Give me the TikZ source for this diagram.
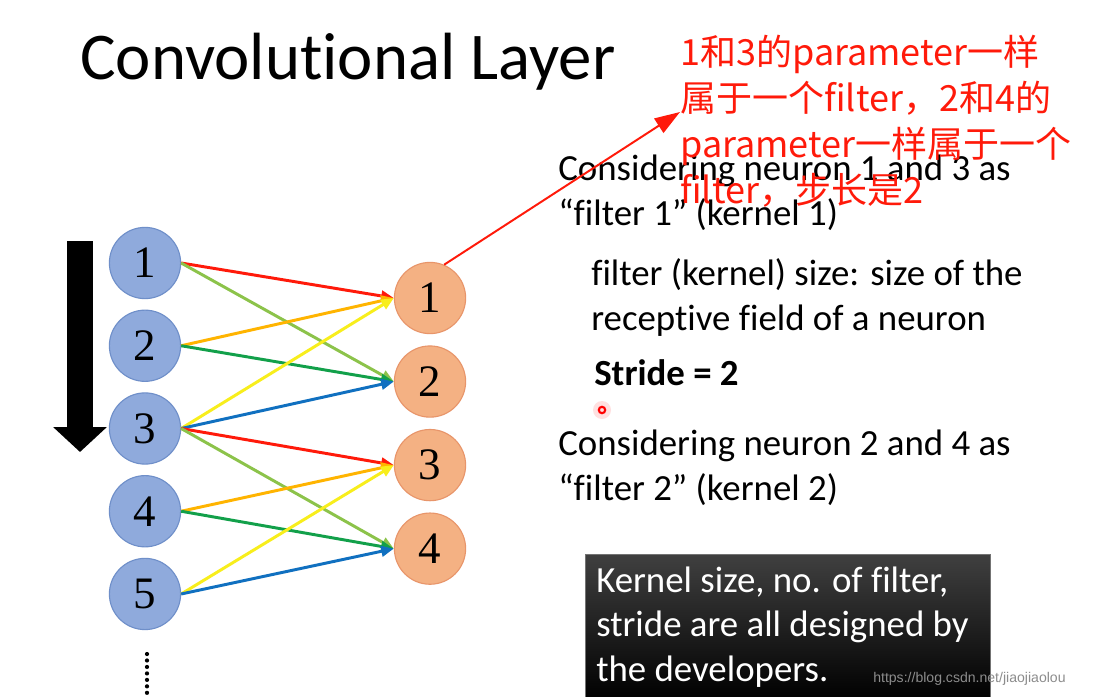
\documentclass[tikz,border=0pt]{standalone}
\usepackage{fontspec}
\setmainfont{Carlito}[Ligatures=NoCommon]
\newfontfamily\cjkfont{Noto Sans CJK SC}
\newfontfamily\numfont{Liberation Serif}
\newfontfamily\markfont{Liberation Sans}
\usetikzlibrary{arrows.meta, positioning}
\definecolor{inBlue}{HTML}{8FAADC}
\definecolor{inEdge}{HTML}{6F8FC9}
\definecolor{outOrange}{HTML}{F4B183}
\definecolor{outEdge}{HTML}{E8956A}
\definecolor{cRed}{HTML}{FF1A0A}
\definecolor{cLime}{HTML}{8CC34A}
\definecolor{cOrange}{HTML}{FFB400}
\definecolor{cGreen}{HTML}{12A04A}
\definecolor{cYellow}{HTML}{F8EE1C}
\definecolor{cBlue}{HTML}{1070C0}

\begin{document}
\begin{tikzpicture}[x=0.025cm, y=-0.025cm, node distance=0.26cm,
    inneuron/.style={circle, fill=inBlue, draw=inEdge, line width=0.8pt,
      minimum size=1.78cm, inner sep=0pt, font=\numfont\fontsize{32}{32}\selectfont},
    outneuron/.style={inneuron, fill=outOrange, draw=outEdge},
    link/.style={line width=2.1pt, -{Triangle[length=9pt, width=7.5pt]}},
    slide/.style={anchor=base west, inner sep=0pt, align=left,
      font=\fontsize{26.2}{32}\selectfont}]
    \useasboundingbox (0,0) rectangle (1103,696);
    \fill[white] (0,0) rectangle (1103,696);

    \node[anchor=base west, inner sep=0pt, font=\fontsize{47.5}{50}\selectfont]
          (title) at (80,80) {Convolutional Layer};

    % input neurons
    \node[inneuron] (in1) at (145,263) {1};
    \node[inneuron, below=of in1] (in2) {2};
    \node[inneuron, below=of in2] (in3) {3};
    \node[inneuron, below=of in3] (in4) {4};
    \node[inneuron, below=of in4] (in5) {5};
    \draw[line width=3pt, line cap=round, dash pattern=on 0pt off 4.6pt]
          (147,654) -- (147,696);

    % output neurons
    \node[outneuron] (out1) at (430,298) {1};
    \node[outneuron, below=0.28cm of out1] (out2) {2};
    \node[outneuron, below=0.28cm of out2] (out3) {3};
    \node[outneuron, below=0.28cm of out3] (out4) {4};

    \foreach \a/\b/\c in {1/1/cRed, 1/2/cLime, 2/1/cOrange, 2/2/cGreen,
                          3/1/cYellow, 3/2/cBlue, 3/3/cRed, 3/4/cLime,
                          4/3/cOrange, 4/4/cGreen, 5/3/cYellow, 5/4/cBlue}
      \draw[link, \c] (in\a.east) -- (out\b.west);

    % stride arrow
    \draw[line width=0.65cm, -{Triangle[length=0.62cm, width=1.3cm]}]
          (80,241) -- (80,452);

    % slide text (placed at the baseline of the last line)
    \node[slide] (kernA) at (558,225)
          {Considering neuron 1 and 3 as\\“filter 1” (kernel 1)};
    \node[slide] (size) at (591,330)
          {filter (kernel) size: size of the\\receptive field of a neuron};
    \node[slide, font=\fontsize{26.2}{32}\selectfont\bfseries] (stride) at (594,385)
          {Stride = 2};
    \fill[red!12] (602,410) circle (9);
    \draw[red, line width=1.5pt] (602,410) circle (3.2);
    \node[slide] (kernB) at (558,500)
          {Considering neuron 2 and 4 as\\“filter 2” (kernel 2)};

    \shade[top color=black!75, bottom color=black, draw=black!55]
          (585,554) rectangle (990,700);
    \node[slide, text=white, font=\fontsize{26.2}{31.3}\selectfont] (remark) at (596,681)
          {Kernel size, no. of filter,\\stride are all designed by\\the developers.};
    \node[anchor=base west, inner sep=0pt, text=black!45,
          font=\markfont\fontsize{10}{10}\selectfont] (mark) at (873,682)
          {https://blog.csdn.net/jiaojiaolou};

    % red note
    \node[slide, text=cRed, font=\cjkfont\fontsize{25.6}{32.7}\selectfont] (note) at (680,203)
          {1和3的parameter一样\\属于一个filter，2和4的\\parameter一样属于一个\\filter，步长是2};
    \coordinate (tip) at (680,112);
    \draw[cRed, line width=1.4pt, -{Triangle[length=18pt, width=12pt]}] (out1.67) -- (tip);
\end{tikzpicture}
\end{document}
